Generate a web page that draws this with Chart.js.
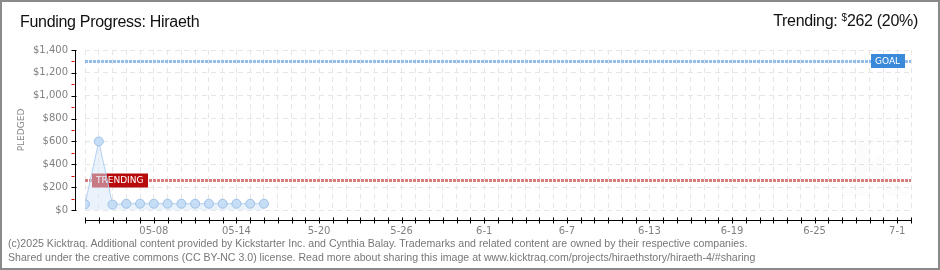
<!DOCTYPE html>
<html>
<head>
<meta charset="utf-8">
<script src="https://cdn.jsdelivr.net/npm/chart.js@4"></script>
<style>
  body { margin: 0; background: #fff; }
  #wrap { position: relative; width: 940px; height: 270px; overflow: hidden; }
  #wrap canvas { position: absolute; left: 0; top: 0; }
  .frame { position: absolute; left: 0; top: 0; width: 940px; height: 270px; box-sizing: border-box; border: 2px solid #8a8a8a; pointer-events: none; }
  .title { position: absolute; left: 20px; top: 13px; font: 16px "Liberation Sans", sans-serif; color: #111; letter-spacing: -0.3px; }
  .trend { position: absolute; right: 22px; top: 12px; font: 16px "Liberation Sans", sans-serif; color: #111; letter-spacing: -0.3px; }
  .trend sup { font-size: 10px; vertical-align: 5px; }
  .foot { position: absolute; left: 8px; font: 10.6px "Liberation Sans", sans-serif; color: #777; white-space: nowrap; }
</style>
</head>
<body>
<div id="wrap">
  <canvas id="fundingChart" width="940" height="270"></canvas>
  <div class="title">Funding Progress: Hiraeth</div>
  <div class="trend">Trending: <sup>$</sup>262 (20%)</div>
  <div class="foot" style="top:237px">(c)2025 Kicktraq. Additional content provided by Kickstarter Inc. and Cynthia Balay. Trademarks and related content are owned by their respective companies.</div>
  <div class="foot" style="top:251px">Shared under the creative commons (CC BY-NC 3.0) license. Read more about sharing this image at www.kicktraq.com/projects/hiraethstory/hiraeth-4/#sharing</div>
  <div class="frame"></div>
</div>
<script>
// pledged total per day, starting 05-03
var pledged = [50, 600, 48, 55, 55, 55, 55, 55, 55, 55, 55, 55, 55, 55];
var totalDays = 60; // 05-03 .. 07-02
var tickDays = [5, 11, 17, 23, 29, 35, 41, 47, 53, 59];
var tickLabels = ['05-08', '05-14', '5-20', '5-26', '6-1', '6-7', '6-13', '6-19', '6-25', '7-1'];
var goal = 1300;
var trending = 262;

function dollars(v) {
    return '$' + v.toLocaleString('en-US');
}

// goal / trending lines, their labels, and the offset axes
var decor = {
    id: 'decor',
    beforeDatasetsDraw: function(chart) {
        var ctx = chart.ctx, a = chart.chartArea, y = chart.scales.y;
        ctx.save();
        // faint watermark
        ctx.fillStyle = 'rgba(0,0,0,0.012)';
        ctx.font = 'italic bold 80px "DejaVu Serif", serif';
        ctx.fillText('K', 842, 196);

        ctx.lineWidth = 3;
        ctx.setLineDash([3, 1]);
        ctx.strokeStyle = '#93bdea';
        var gy = Math.round(y.getPixelForValue(goal)) + 0.5;
        ctx.beginPath(); ctx.moveTo(a.left, gy); ctx.lineTo(a.right, gy); ctx.stroke();
        ctx.strokeStyle = '#d67c7c';
        var ty = Math.round(y.getPixelForValue(trending)) + 0.5;
        ctx.beginPath(); ctx.moveTo(a.left, ty); ctx.lineTo(a.right, ty); ctx.stroke();
        ctx.setLineDash([]);

        // trending tag
        ctx.font = '9px "DejaVu Sans", sans-serif';
        ctx.textBaseline = 'middle';
        ctx.fillStyle = '#b80c0c';
        ctx.fillRect(a.left + 7, ty - 7, 56, 14);
        ctx.fillStyle = '#fff';
        ctx.fillText('TRENDING', a.left + 11, ty);
        ctx.restore();
    },
    afterDraw: function(chart) {
        var ctx = chart.ctx, a = chart.chartArea, x = chart.scales.x, y = chart.scales.y;
        ctx.save();
        // goal tag
        var gy = Math.round(y.getPixelForValue(goal));
        ctx.fillStyle = '#3b8ad9';
        ctx.fillRect(a.right - 40, gy - 7, 34, 14);
        ctx.fillStyle = '#fff';
        ctx.font = '9px "DejaVu Sans", sans-serif';
        ctx.textBaseline = 'middle';
        ctx.fillText('GOAL', a.right - 36, gy + 0.5);

        // y axis
        var ax = a.left - 9.5;
        ctx.strokeStyle = '#000';
        ctx.lineWidth = 1;
        ctx.beginPath();
        ctx.moveTo(ax, y.getPixelForValue(1400));
        ctx.lineTo(ax, y.getPixelForValue(0) + 1);
        ctx.stroke();
        for (var v = 0; v <= 1400; v += 100) {
            var py = Math.round(y.getPixelForValue(v)) + 0.5;
            ctx.beginPath();
            if (v % 200 === 0) {
                ctx.strokeStyle = '#000';
                ctx.moveTo(ax - 4, py); ctx.lineTo(ax + 1, py);
            } else {
                ctx.strokeStyle = '#e00000';
                ctx.moveTo(ax - 4, py); ctx.lineTo(ax - 1, py);
            }
            ctx.stroke();
        }

        // x axis
        var ay = a.bottom + 10.5;
        ctx.strokeStyle = '#000';
        ctx.beginPath();
        ctx.moveTo(a.left, ay); ctx.lineTo(a.right, ay);
        ctx.stroke();
        for (var d = 0; d <= totalDays; d++) {
            var px = Math.round(x.getPixelForValue(d)) + 0.5;
            ctx.beginPath();
            ctx.moveTo(px, ay - 3); ctx.lineTo(px, ay + 3);
            ctx.stroke();
        }

        // y axis title
        ctx.translate(22, 130);
        ctx.rotate(-Math.PI / 2);
        ctx.fillStyle = '#888';
        ctx.font = '9px "DejaVu Sans", sans-serif';
        ctx.textAlign = 'center';
        ctx.textBaseline = 'middle';
        ctx.fillText('PLEDGED', 0, 0);
        ctx.restore();
    }
};

var ctx = document.getElementById('fundingChart');

var fundingChart = new Chart(ctx, {
    type: 'line',
    data: {
        datasets: [{
            data: pledged.map(function(v, i) { return { x: i, y: v }; }),
            borderColor: '#b3cff0',
            borderWidth: 1,
            backgroundColor: 'rgba(214,231,250,0.5)',
            fill: 'origin',
            tension: 0,
            pointRadius: 4.5,
            pointBackgroundColor: '#c6ddf6',
            pointBorderColor: '#9fc0e6',
            pointBorderWidth: 1
        }]
    },
    options: {
        responsive: false,
        animation: false,
        devicePixelRatio: 1,
        layout: { padding: { left: 0, top: 50, right: 29, bottom: 0 } },
        plugins: {
            legend: { display: false },
            tooltip: { enabled: false }
        },
        scales: {
            x: {
                type: 'linear',
                min: 0,
                max: totalDays,
                afterFit: function(s) { s.height = 60; },
                grid: { color: '#e6e6e6', drawTicks: false },
                border: { display: false, dash: [5, 4] },
                ticks: {
                    stepSize: 1,
                    autoSkip: false,
                    maxRotation: 0,
                    padding: 15,
                    color: '#808080',
                    font: { family: '"DejaVu Sans", sans-serif', size: 10 },
                    callback: function(v) {
                        var i = tickDays.indexOf(v);
                        return i < 0 ? '' : tickLabels[i];
                    }
                }
            },
            y: {
                min: 0,
                max: 1400,
                afterFit: function(s) { s.width = 85; },
                grid: { color: '#e6e6e6', drawTicks: false },
                border: { display: false, dash: [5, 4] },
                ticks: {
                    stepSize: 200,
                    padding: 17,
                    color: '#808080',
                    font: { family: '"DejaVu Sans", sans-serif', size: 10 },
                    callback: function(v) { return dollars(v); }
                }
            }
        }
    },
    plugins: [decor]
});
</script>
</body>
</html>
